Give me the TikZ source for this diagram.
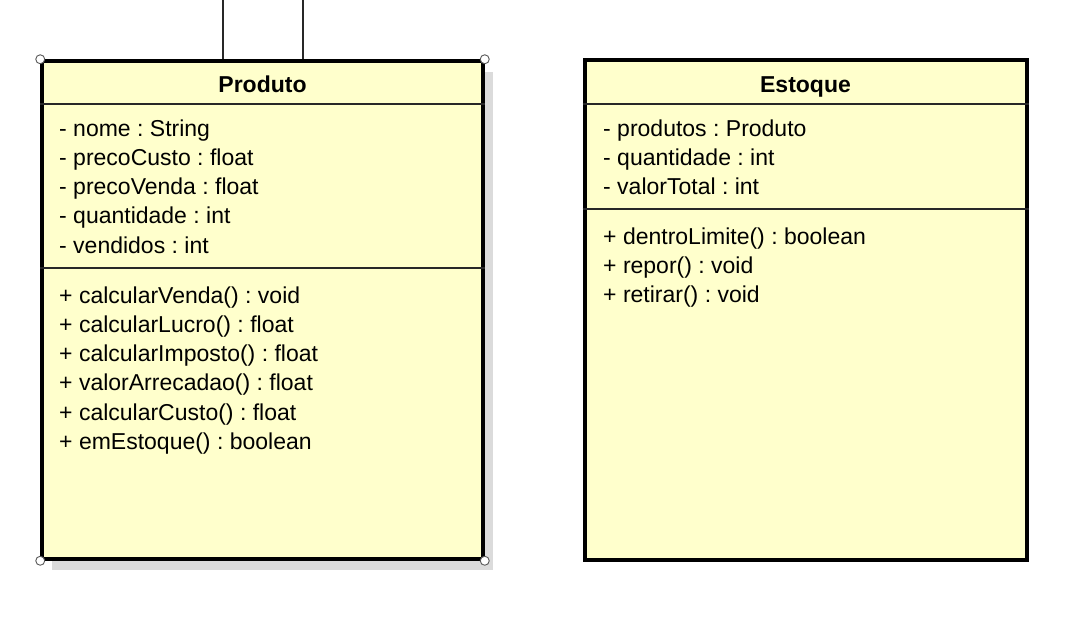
\documentclass[tikz,border=0pt]{standalone}
\usepackage{fontspec}
\setmainfont{Liberation Sans}
\frenchspacing
\usetikzlibrary{positioning,shadows}
\definecolor{clsfill}{RGB}{255,255,204}
\definecolor{clsline}{RGB}{40,40,40}
\tikzset{
	cls_box/.style = {rectangle, draw=black, line width=3.5pt, fill=clsfill,
		inner sep=0pt},
	cls_name/.style = {font=\fontsize{23}{28}\selectfont\bfseries, anchor=base,
		inner sep=0pt},
	cls_item/.style = {font=\fontsize{23}{28}\selectfont, anchor=base west,
		inner sep=0pt},
	cls_sep/.style = {draw=clsline, line width=2pt},
	handle/.style = {circle, draw=black!65, fill=white, line width=0.9pt,
		inner sep=0pt, minimum size=9pt},
	assoc/.style = {draw=clsline, line width=1.6pt}
}

\begin{document}
\begin{tikzpicture}[x=1pt,y=-1pt]
\useasboundingbox (0,0) rectangle (1079,627);
% Produto
\node [cls_box, minimum width=441pt, minimum height=498pt,
	drop shadow={shadow xshift=10pt, shadow yshift=-11pt, fill=black!14, opacity=1}]
	(produto) at (262.5,310) {};
\node [cls_name] (produto_name) at (262.5,92) {Produto};
\draw [cls_sep] ([yshift=-45pt]produto.north west) -- ([yshift=-45pt]produto.north east);
\draw [cls_sep] ([yshift=-209pt]produto.north west) -- ([yshift=-209pt]produto.north east);
\foreach \txt [count=\i] in {- nome : String, - precoCusto : float,
	- precoVenda : float, - quantidade : int, - vendidos : int}
	\node [cls_item] (p_att\i) at (59,{136+29.3*(\i-1)}) {\txt};
\foreach \txt [count=\i] in {+ calcularVenda() : void, + calcularLucro() : float,
	+ calcularImposto() : float, + valorArrecadao() : float,
	+ calcularCusto() : float, + emEstoque() : boolean}
	\node [cls_item] (p_op\i) at (59,{303+29.3*(\i-1)}) {\txt};
% Estoque
\node [cls_box, line width=4pt, minimum width=442pt, minimum height=500pt]
	(estoque) at (805.5,309.5) {};
\node [cls_name] (estoque_name) at (805.5,92) {Estoque};
\draw [cls_sep] ([yshift=-46.5pt]estoque.north west) -- ([yshift=-46.5pt]estoque.north east);
\draw [cls_sep] ([yshift=-151.5pt]estoque.north west) -- ([yshift=-151.5pt]estoque.north east);
\foreach \txt [count=\i] in {- produtos : Produto, - quantidade : int,
	- valorTotal : int}
	\node [cls_item] (e_att\i) at (603,{136+29.3*(\i-1)}) {\txt};
\foreach \txt [count=\i] in {+ dentroLimite() : boolean, + repor() : void,
	+ retirar() : void}
	\node [cls_item] (e_op\i) at (603,{244+29.3*(\i-1)}) {\txt};
% associations leaving the top
\coordinate (top_a) at (223,0);
\coordinate (top_b) at (303,0);
\draw [assoc] (top_a) -- (top_a |- produto.north);
\draw [assoc] (top_b) -- (top_b |- produto.north);
% selection handles
\foreach \c in {north west, north east, south west, south east}
	\node [handle] (h_\c) at (produto.\c) {};
\end{tikzpicture}
\end{document}
